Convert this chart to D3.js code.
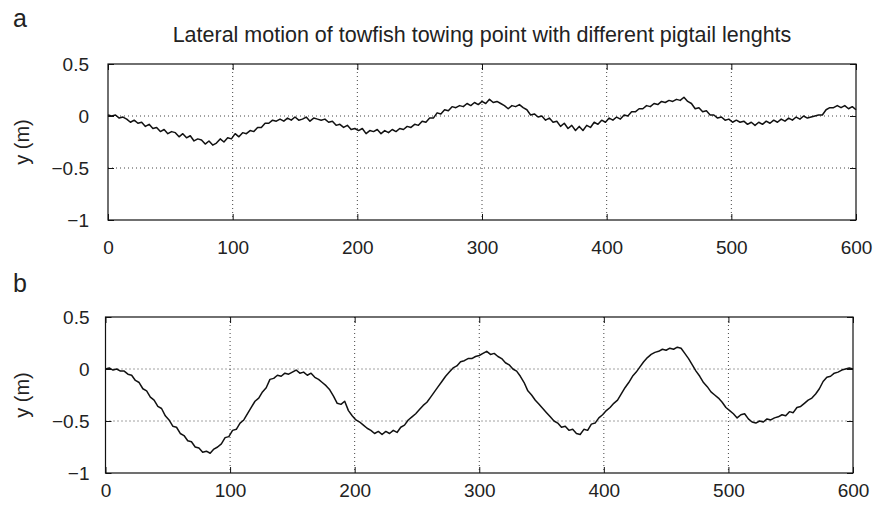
<!DOCTYPE html>
<html>
<head>
<meta charset="utf-8">
<script src="https://cdn.jsdelivr.net/npm/d3@7"></script>
<style>
  html, body { margin: 0; padding: 0; background: #fff; }
  svg text { font-family: "Liberation Sans", Arial, Helvetica, sans-serif; fill: #222; }
</style>
</head>
<body>
<svg id="chart" width="874" height="511"></svg>
<script>
// ---------- data ----------
const title = "Lateral motion of towfish towing point with different pigtail lenghts";
const panelLetters = ["a", "b"];
const yLabel = "y (m)";
const xTicks = [0, 100, 200, 300, 400, 500, 600];
const yTicks = [0.5, 0, -0.5, -1];
const yTickLabels = ["0.5", "0", "\u22120.5", "\u22121"];
const sampleStep = 3; // seconds between samples
const time = d3.range(0, 601, sampleStep);

// Panel a: short pigtail
const seriesA = [
  0.01,0.0,0.01,-0.02,-0.01,-0.03,-0.06,-0.04,-0.07,-0.06,
  -0.10,-0.08,-0.12,-0.11,-0.15,-0.13,-0.17,-0.15,-0.16,-0.20,
  -0.17,-0.21,-0.19,-0.24,-0.22,-0.23,-0.27,-0.24,-0.28,-0.26,
  -0.22,-0.25,-0.21,-0.22,-0.17,-0.20,-0.16,-0.17,-0.14,-0.15,
  -0.11,-0.11,-0.07,-0.07,-0.04,-0.05,-0.03,-0.05,-0.02,-0.04,
  -0.01,-0.04,-0.03,-0.01,-0.05,-0.02,-0.03,-0.04,-0.03,-0.06,
  -0.05,-0.09,-0.08,-0.11,-0.09,-0.13,-0.12,-0.14,-0.12,-0.17,
  -0.14,-0.15,-0.13,-0.17,-0.14,-0.16,-0.13,-0.15,-0.12,-0.13,
  -0.10,-0.11,-0.08,-0.09,-0.05,-0.06,-0.02,-0.02,0.03,0.02,
  0.06,0.05,0.09,0.08,0.10,0.09,0.12,0.10,0.13,0.11,
  0.14,0.12,0.16,0.13,0.14,0.12,0.10,0.07,0.10,0.09,
  0.11,0.08,0.06,0.01,0.02,-0.01,0.0,-0.04,-0.02,-0.06,
  -0.05,-0.10,-0.07,-0.12,-0.09,-0.14,-0.10,-0.14,-0.09,-0.11,
  -0.06,-0.08,-0.04,-0.06,-0.02,-0.04,-0.01,-0.03,0.01,0.0,
  0.04,0.04,0.07,0.07,0.10,0.09,0.12,0.11,0.14,0.13,
  0.15,0.14,0.16,0.15,0.18,0.14,0.12,0.07,0.08,0.04,
  0.05,0.01,0.01,-0.02,-0.01,-0.04,-0.03,-0.06,-0.04,-0.06,
  -0.05,-0.08,-0.06,-0.09,-0.06,-0.08,-0.05,-0.07,-0.04,-0.06,
  -0.03,-0.05,-0.02,-0.04,-0.01,-0.03,0.0,-0.02,-0.01,0.0,
  0.01,0.01,0.06,0.08,0.08,0.10,0.08,0.10,0.07,0.09,
  0.06
];

// Panel b: long pigtail
const seriesB = [
  0.0,0.01,-0.01,0.0,-0.02,-0.02,-0.05,-0.06,-0.11,-0.13,
  -0.19,-0.21,-0.27,-0.30,-0.36,-0.38,-0.45,-0.49,-0.55,-0.56,
  -0.62,-0.64,-0.69,-0.70,-0.75,-0.76,-0.80,-0.79,-0.81,-0.77,
  -0.75,-0.72,-0.66,-0.65,-0.59,-0.58,-0.52,-0.49,-0.43,-0.37,
  -0.31,-0.28,-0.22,-0.18,-0.10,-0.09,-0.06,-0.07,-0.04,-0.05,
  -0.03,-0.01,-0.04,-0.03,-0.06,-0.04,-0.08,-0.10,-0.13,-0.16,
  -0.20,-0.26,-0.33,-0.34,-0.31,-0.40,-0.45,-0.49,-0.51,-0.54,
  -0.57,-0.59,-0.62,-0.60,-0.63,-0.60,-0.62,-0.59,-0.61,-0.56,
  -0.54,-0.49,-0.46,-0.43,-0.39,-0.35,-0.32,-0.27,-0.22,-0.17,
  -0.12,-0.07,-0.03,0.01,0.03,0.07,0.08,0.10,0.10,0.12,
  0.13,0.15,0.17,0.14,0.15,0.12,0.10,0.06,0.04,0.0,
  -0.02,-0.07,-0.13,-0.21,-0.25,-0.30,-0.34,-0.38,-0.42,-0.46,
  -0.50,-0.52,-0.56,-0.55,-0.59,-0.58,-0.62,-0.63,-0.58,-0.59,
  -0.53,-0.52,-0.47,-0.44,-0.40,-0.37,-0.33,-0.30,-0.24,-0.18,
  -0.13,-0.07,-0.03,0.02,0.07,0.11,0.14,0.16,0.17,0.19,
  0.18,0.20,0.19,0.21,0.20,0.15,0.10,0.04,-0.02,-0.07,
  -0.13,-0.17,-0.22,-0.25,-0.28,-0.32,-0.37,-0.40,-0.43,-0.47,
  -0.44,-0.43,-0.48,-0.51,-0.52,-0.50,-0.51,-0.48,-0.49,-0.47,
  -0.46,-0.44,-0.45,-0.41,-0.42,-0.37,-0.36,-0.33,-0.30,-0.28,
  -0.24,-0.19,-0.12,-0.08,-0.07,-0.04,-0.03,-0.01,0.0,0.01,
  0.0
];

// ---------- layout ----------
const panels = [
  { letter: panelLetters[0], values: seriesA, left: 108, right: 856, top: 64, bottom: 220,
    xPad: 20.5, yPad: 19, letterY: 27, labelX: 29 },
  { letter: panelLetters[1], values: seriesB, left: 105.5, right: 853, top: 317, bottom: 473,
    xPad: 10.5, yPad: 16, letterY: 292, labelX: 29 }
];

const svg = d3.select("#chart");

svg.append("text")
  .attr("x", 482).attr("y", 42)
  .attr("text-anchor", "middle")
  .style("font-size", "21.5px")
  .text(title);

panels.forEach(p => {
  const x = d3.scaleLinear().domain([0, 600]).range([p.left, p.right]);
  const y = d3.scaleLinear().domain([-1, 0.5]).range([p.bottom, p.top]);
  const g = svg.append("g");

  // grid
  g.append("g").selectAll("line")
    .data(xTicks.slice(1, -1)).join("line")
    .attr("x1", d => x(d)).attr("x2", d => x(d))
    .attr("y1", p.top).attr("y2", p.bottom)
    .attr("stroke", "#444").attr("stroke-width", 1)
    .attr("stroke-dasharray", "1,3");
  g.append("g").selectAll("line")
    .data(yTicks.slice(1, -1)).join("line")
    .attr("y1", d => y(d)).attr("y2", d => y(d))
    .attr("x1", p.left).attr("x2", p.right)
    .attr("stroke", "#444").attr("stroke-width", 1)
    .attr("stroke-dasharray", "1,3");

  // data line
  const line = d3.line()
    .x((d, i) => x(time[i]))
    .y(d => y(d));
  g.append("path")
    .datum(p.values)
    .attr("d", line)
    .attr("fill", "none")
    .attr("stroke", "#111")
    .attr("stroke-width", 1.5)
    .attr("stroke-linejoin", "round");

  // axes
  const fontSize = "19px";
  const bottomAxis = d3.axisBottom(x).tickValues(xTicks).tickFormat(d3.format("d"))
    .tickSizeInner(-6).tickSizeOuter(0).tickPadding(p.xPad);
  const gb = g.append("g").attr("transform", `translate(0,${p.bottom})`).call(bottomAxis);
  const topAxis = d3.axisTop(x).tickValues(xTicks).tickFormat("")
    .tickSizeInner(-6).tickSizeOuter(0);
  const gt = g.append("g").attr("transform", `translate(0,${p.top})`).call(topAxis);
  const leftAxis = d3.axisLeft(y).tickValues(yTicks)
    .tickFormat((d, i) => yTickLabels[i])
    .tickSizeInner(-6).tickSizeOuter(0).tickPadding(p.yPad);
  const gl = g.append("g").attr("transform", `translate(${p.left},0)`).call(leftAxis);
  const rightAxis = d3.axisRight(y).tickValues(yTicks).tickFormat("")
    .tickSizeInner(-6).tickSizeOuter(0);
  const gr = g.append("g").attr("transform", `translate(${p.right},0)`).call(rightAxis);

  [gb, gt, gl, gr].forEach(a => {
    a.select(".domain").remove();
    a.selectAll("line").attr("stroke", "#111");
    a.selectAll("text").style("font-size", fontSize)
      .style("font-family", '"Liberation Sans", Arial, sans-serif').attr("fill", "#222");
  });

  // frame
  g.append("rect")
    .attr("x", p.left).attr("y", p.top)
    .attr("width", p.right - p.left).attr("height", p.bottom - p.top)
    .attr("fill", "none").attr("stroke", "#111").attr("stroke-width", 1.2);

  // y label
  g.append("text")
    .attr("transform", `translate(${p.labelX},${(p.top + p.bottom) / 2}) rotate(-90)`)
    .attr("text-anchor", "middle")
    .style("font-size", "20px")
    .text(yLabel);

  // panel letter
  g.append("text")
    .attr("x", 13).attr("y", p.letterY)
    .style("font-size", "25px")
    .text(p.letter);
});
</script>
</body>
</html>
